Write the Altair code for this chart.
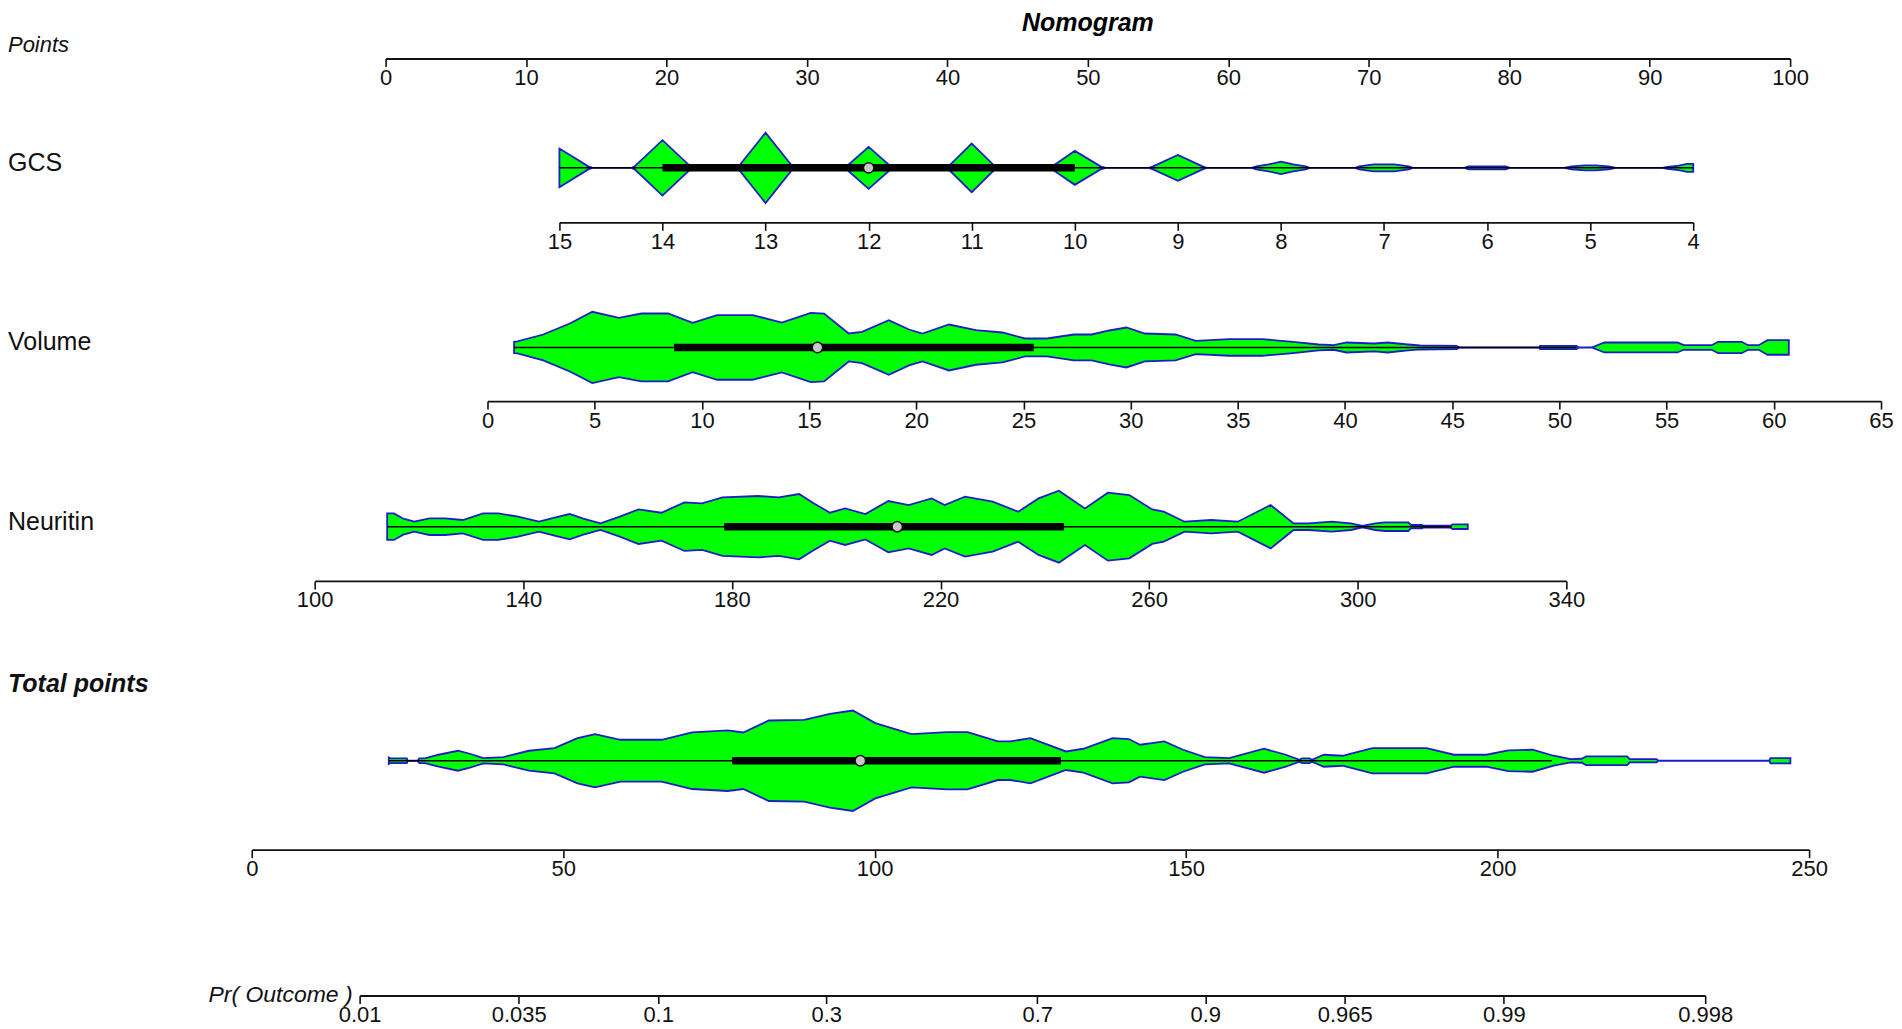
import math
import altair as alt
import pandas as pd

FONT = "Liberation Sans"
W = 1870

# ---------------- tick values ----------------
points_ticks = list(range(0, 101, 10))
gcs_ticks = list(range(4, 16))
volume_ticks = list(range(0, 66, 5))
neuritin_ticks = [100, 140, 180, 220, 260, 300, 340]
total_ticks = [0, 50, 100, 150, 200, 250]
pr_ticks = [0.01, 0.035, 0.1, 0.3, 0.7, 0.9, 0.965, 0.99, 0.998]

# ---------------- violin outlines (value, half-width) ----------------
gcs_val = [4.0, 4.06, 4.14, 4.25, 4.3, 4.75, 4.82, 4.95, 5.05, 5.18, 5.25, 5.78, 5.82, 6.18, 6.22,
           6.72, 6.76, 6.9, 7.1, 7.24, 7.28, 7.72, 7.76, 7.88, 8.0, 8.12, 8.24, 8.28, 8.72, 8.76,
           9.0, 9.24, 9.28, 9.7, 9.75, 10.0, 10.22, 10.26, 10.75, 10.77, 11.0, 11.23, 11.25, 11.76,
           11.78, 12.0, 12.22, 12.24, 12.72, 12.74, 13.0, 13.26, 13.28, 13.7, 13.73, 14.0, 14.27,
           14.3, 14.68, 14.72, 15.0]
gcs_hw = [4, 4, 2.3, 1, 0, 0, 1.5, 2.5, 2.5, 1.5, 0, 0, 1.5, 1.5, 0,
          0, 1.5, 3.5, 3.5, 1.5, 0, 0, 1.5, 3.5, 6.3, 3.5, 1.5, 0, 0, 1.5,
          13, 1.5, 0, 0, 1.5, 17, 1.5, 0, 0, 1, 24.3, 1, 0, 0,
          1, 21, 1, 0, 0, 1.5, 35.3, 1.5, 0, 0, 1.5, 27.7, 1.5,
          0, 0, 1.5, 19.3]

volume_val = [1.24, 1.4, 2.6, 3.84, 4.89, 6.13, 7.18, 8.42, 9.57, 10.71, 12.37, 13.73, 15.08, 15.7,
              16.85, 17.47, 18.72, 19.66, 20.29, 21.53, 22.78, 24.02, 25.07, 26.1, 27.35, 28.18,
              29.0, 29.8, 30.66, 32.09, 33.04, 34.6, 36.15, 37.58, 38.77, 39.47, 40.07, 41.37,
              41.98, 42.94, 43.5, 45.2, 45.35, 49.05, 49.1, 50.8, 50.9, 51.5, 52.1, 55.5, 55.8,
              57.1, 57.4, 58.5, 58.8, 59.3, 59.7, 60.7]
volume_hw = [5.7, 6, 13, 24, 35.7, 29.7, 34, 34, 24.7, 32.3, 32.3, 25, 34.7, 34,
             14, 15.7, 27.3, 18, 14, 23, 17.3, 15, 9, 9, 13, 13,
             17, 20, 14, 13, 6.7, 8.3, 8.3, 5.7, 3, 2.3, 5, 4,
             5, 3, 2, 1.7, 0, 0, 1.7, 1.7, 0, 0, 5, 5, 2.3,
             2.3, 5.7, 5.7, 2.3, 2.3, 7.3, 7.3]

neuritin_val = [113.9, 115.2, 117, 119.1, 122, 125, 128.4, 132.3, 135.2, 139, 143, 146, 148.9, 151.5,
                154.8, 158.5, 162.1, 166.5, 170.9, 174.3, 178.2, 185.1, 189, 192.9, 195.5, 198.8,
                201.7, 205.6, 210, 213.9, 218.3, 220.8, 224.7, 230, 234.9, 238.8, 242.7, 247.7,
                252.1, 256.2, 260.6, 262.8, 266.8, 271.9, 277, 283.3, 287.7, 290.6, 295, 298.7,
                300.9, 303.4, 305.2, 309.7, 310.2, 312.3, 312.6, 317.8, 318.2, 321.1]
neuritin_hw = [13.3, 13.3, 8, 5, 8.3, 8.3, 6.7, 13.3, 13.3, 10, 5, 9, 12.7, 8,
               3.3, 10, 17.3, 14, 24.3, 23.3, 29.3, 30.7, 29.3, 32.7, 24, 14,
               18.3, 12.7, 25.7, 21.7, 28.3, 21.7, 30, 25, 15, 28.3, 36, 18.3,
               34, 31.7, 17.3, 15, 5, 6.7, 5, 21.7, 3.3, 3.3, 5, 3.3,
               0.7, 3.3, 4.3, 4.3, 1.7, 1.7, 1, 1, 2.3, 2.3]

total_val = [22.0, 22.3, 24.9, 25.0, 26.6, 26.9, 27.8, 30, 33.1, 35, 37.2, 40.4, 44.5, 48.6, 52.3,
             55.1, 59.2, 65.8, 70.7, 76.4, 78.9, 83, 88.7, 92.8, 96.5, 100.1, 105.9, 111.6, 114.9,
             119.8, 121.8, 125, 130.7, 133.5, 138.2, 140.8, 142.6, 146.5, 149.5, 153, 156.9,
             162.5, 166, 168.2, 168.6, 169.8, 170.2, 172.1, 175.1, 179.9, 188.6, 193, 198.2,
             201.7, 205.6, 209, 211.7, 213.5, 214.2, 220.8, 221.2, 225.5, 225.8, 243.6, 243.8, 247.0]
total_hw = [3.3, 2.3, 2.3, 0, 0, 2.3, 2.3, 6, 10, 7, 2.7, 3.7, 10, 12.7, 22.7,
            26.7, 21, 21, 28.3, 30.3, 28.3, 40.3, 41, 47, 50.3, 37.7, 26.7, 28.7, 28.7,
            19.3, 19.3, 22.7, 9.3, 12, 22.7, 21.7, 16, 19.3, 11, 3.7, 2.7,
            12, 6, 1, 2.3, 2.3, 1, 6, 5, 12.7, 12.7, 6, 6,
            10.3, 11, 5, 1.7, 2, 4.3, 4.3, 1.7, 1.7, 0, 0, 2.7, 2.7]

# summaries: whisker line, IQR bar, median
gcs_sum = {"wlo": 15, "whi": 4, "q1": 14, "q3": 10, "med": 12}
volume_sum = {"wlo": 1.24, "whi": 50.8, "q1": 8.7, "q3": 25.48, "med": 15.39}
neuritin_sum = {"wlo": 113.9, "whi": 318.0, "q1": 178.5, "q3": 243.7, "med": 211.7}
total_sum = {"wlo": 22.0, "whi": 208.7, "q1": 77.1, "q3": 129.9, "med": 97.7}


def logit(p):
    return math.log(p / (1 - p))


axis_common = dict(title=None, grid=False, domainColor="#111111", domainWidth=1.8,
                   tickColor="#111111", tickWidth=1.6, tickSize=8, labelPadding=1,
                   labelFontSize=22, labelFont=FONT, labelColor="#111111",
                   labelFlush=False, labelOverlap=False, orient="bottom")


def xenc(field, dom, rng, ticks, **kw):
    return alt.X(field, type="quantitative",
                 scale=alt.Scale(domain=dom, range=rng, nice=False, zero=False),
                 axis=alt.Axis(values=ticks, **axis_common, **kw))


def label_layer(text, y, size, style="normal", weight="normal"):
    df = pd.DataFrame({"t": [text]})
    return alt.Chart(df).mark_text(align="left", baseline="middle", font=FONT, fontSize=size,
                                   fontStyle=style, fontWeight=weight, color="#111111").encode(
        x=alt.value(0), y=alt.value(y), text="t:N")


def violin_row(vals, hws, summ, dom, rng, ticks, h, d, label, label_y,
               size=25, style="normal", weight="normal"):
    ysc = alt.Scale(domain=[-d, h - d], nice=False, zero=False)
    vdf = pd.DataFrame({"v": vals, "top": hws})
    vdf["bot"] = -vdf["top"]
    sdf = pd.DataFrame([summ])
    sdf["c"] = 0

    def X(f):
        return xenc(f, dom, rng, ticks)

    Y = alt.Y("c:Q", scale=ysc, axis=None)
    area = alt.Chart(vdf).mark_area(fill="#00FF00", stroke="#1c1cc8", strokeWidth=1.8,
                                    fillOpacity=1, interpolate="linear").encode(
        x=X("v"), y=alt.Y("bot:Q", scale=ysc, axis=None), y2="top:Q")
    thin = alt.Chart(sdf).mark_rule(color="#000000", strokeWidth=1.5).encode(
        x=X("wlo"), x2="whi:Q", y=Y)
    thick = alt.Chart(sdf).mark_rule(color="#000000", strokeWidth=7.5, strokeCap="butt").encode(
        x=X("q1"), x2="q3:Q", y=Y)
    med = alt.Chart(sdf).mark_point(shape="circle", filled=True, fill="#c8c8c8", stroke="#111111",
                                    strokeWidth=1.5, size=110, opacity=1).encode(x=X("med"), y=Y)
    lab = label_layer(label, label_y, size, style, weight)
    return alt.layer(area, thin, thick, med, lab).properties(width=W, height=h)


# ---------------- Points row ----------------
pts_rng = [378, 1784]
tdf = pd.DataFrame({"pts": [50], "t": ["Nomogram"]})
title = alt.Chart(tdf).mark_text(font=FONT, fontSize=25, fontStyle="italic", fontWeight="bold",
                                 baseline="top", align="center", color="#000000").encode(
    x=xenc("pts", [0, 100], pts_rng, points_ticks), y=alt.value(2), text="t:N")
points_row = alt.layer(title, label_layer("Points", 37, 22, "italic")).properties(width=W, height=50)

# ---------------- variable rows ----------------
gcs_row = violin_row(gcs_val, gcs_hw, gcs_sum, [4, 15], [1687, 552], gcs_ticks,
                     164, 54.5, "GCS", 104.5)
volume_row = violin_row(volume_val, volume_hw, volume_sum, [0, 65], [480, 1875], volume_ticks,
                        179, 53.7, "Volume", 120)
neuritin_row = violin_row(neuritin_val, neuritin_hw, neuritin_sum, [100, 340], [307, 1560],
                          neuritin_ticks, 180, 54.3, "Neuritin", 120.6)
total_row = violin_row(total_val, total_hw, total_sum, [0, 250], [244, 1803], total_ticks,
                       269, 89, "Total points", 103, 25, "italic", "bold")

# ---------------- Pr(Outcome) row ----------------
pr_dom = [logit(pr_ticks[0]), logit(pr_ticks[-1])]
prdf = pd.DataFrame({"x": [logit(pr_ticks[0])], "t": ["Pr( Outcome )"]})
pr_lab = alt.Chart(prdf).mark_text(font=FONT, fontSize=23, fontStyle="italic", align="right",
                                   baseline="middle", dx=-7, color="#111111").encode(
    x=alt.X("x:Q", scale=alt.Scale(domain=pr_dom, range=[352, 1699], nice=False, zero=False),
            axis=alt.Axis(values=[logit(p) for p in pr_ticks],
                          labelExpr="format(1/(1+exp(-datum.value)), '.3~r')", **axis_common)),
    y=alt.value(146), text="t:N")
pr_row = alt.layer(pr_lab).properties(width=W, height=146)

chart = alt.vconcat(points_row, gcs_row, volume_row, neuritin_row, total_row, pr_row,
                    spacing=0, bounds="flush").properties(padding=0).configure(
    font=FONT, background="white").configure_view(strokeWidth=0, stroke="transparent")

chart.save("out.html", embed_options={"renderer": "svg", "actions": False})
